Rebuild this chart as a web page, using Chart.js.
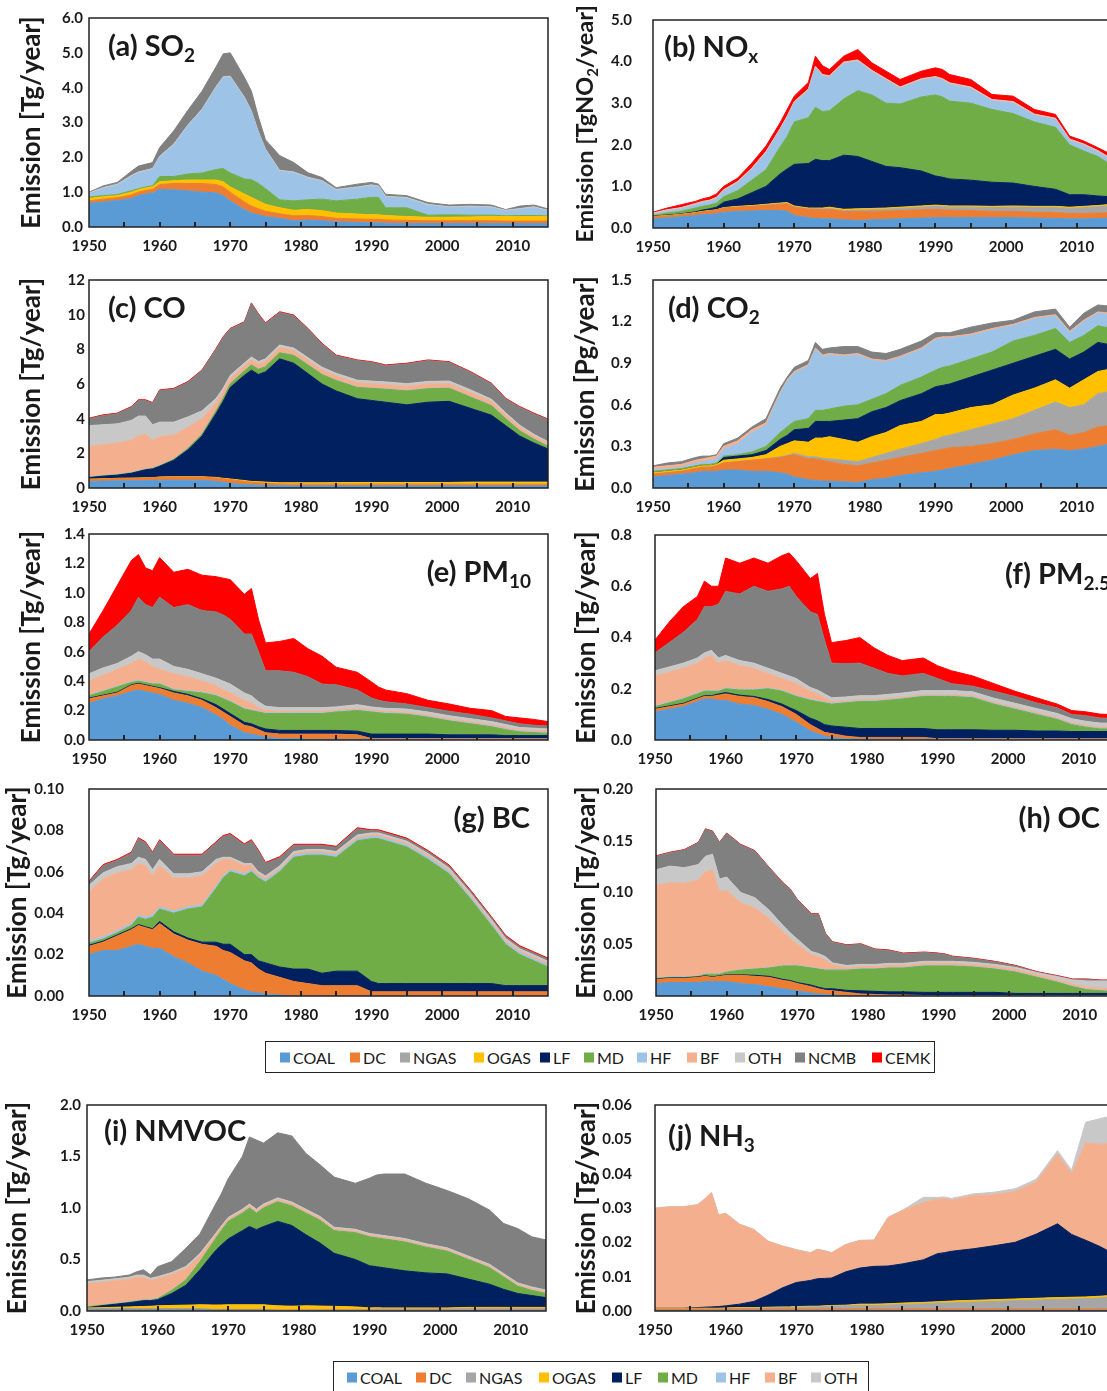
<!DOCTYPE html>
<html>
<head>
<meta charset="utf-8">
<title>Emissions by source sector, 1950-2015</title>
<script src="https://cdn.jsdelivr.net/npm/chart.js@4.4.1/dist/chart.umd.min.js"></script>
<style>
  html, body { margin: 0; padding: 0; background: #fff; }
  body { width: 1107px; height: 1391px; position: relative; overflow: hidden; font-family: Lato, "Liberation Sans", sans-serif; }
  canvas { position: absolute; }
  .legend { position: absolute; border: 1.5px solid #222; box-sizing: border-box; background: #fff; }
  .item { position: absolute; display: flex; align-items: center; font-size: 16px; color: #1a1a1a; white-space: nowrap; transform: translateY(-50%); }
  .swatch { display: inline-block; width: 10px; height: 10px; margin-right: 3px; }
</style>
</head>
<body>
<script>
// Years sampled for every panel
const years = [1950,1952,1954,1956,1957,1958,1959,1960,1962,1964,1966,1968,1969,1970,1972,1973,1974,1975,
               1977,1979,1981,1983,1985,1988,1990,1991,1992,1995,1998,2001,2004,2007,2009,2011,2013,2015];

const mainLegend = ["COAL","DC","NGAS","OGAS","LF","MD","HF","BF","OTH","NCMB","CEMK"];
const nmvocLegend = ["COAL","DC","NGAS","OGAS","LF","MD","HF","BF","OTH"];

const COLORS = {
  COAL: "#5B9BD5", DC: "#ED7D31", NGAS: "#A6A6A6", OGAS: "#FFC000", LF: "#002060", MD: "#70AD47",
  HF: "#9DC3E6", BF: "#F4B08E", OTH: "#C8C8C8", NCMB: "#808080", CEMK: "#FF0000"
};

// (a) SO2 [Tg/year]
const so2_COAL = [0.68,0.72,0.76,0.82,0.90,0.95,0.98,1.08,1.07,1.04,1.00,0.98,0.90,0.75,0.50,0.40,0.35,0.30,0.25,0.18,0.20,0.18,0.15,0.13,0.12,0.12,0.11,0.10,0.10,0.10,0.10,0.10,0.10,0.10,0.10,0.10];
const so2_DC   = [0.07,0.08,0.08,0.10,0.10,0.10,0.10,0.14,0.18,0.21,0.25,0.24,0.25,0.25,0.22,0.20,0.17,0.15,0.13,0.14,0.13,0.12,0.10,0.10,0.10,0.10,0.09,0.09,0.08,0.08,0.08,0.08,0.07,0.07,0.07,0.07];
const so2_OGAS = [0.07,0.07,0.06,0.08,0.07,0.07,0.07,0.08,0.08,0.10,0.10,0.13,0.15,0.15,0.23,0.25,0.23,0.20,0.17,0.16,0.17,0.17,0.15,0.14,0.13,0.13,0.13,0.11,0.10,0.10,0.11,0.12,0.13,0.13,0.13,0.13];
const so2_MD   = [0.04,0.03,0.03,0.04,0.03,0.03,0.03,0.15,0.12,0.17,0.20,0.30,0.38,0.40,0.43,0.51,0.50,0.45,0.23,0.27,0.28,0.33,0.35,0.43,0.50,0.50,0.22,0.25,0.06,0.07,0.05,0.04,0.02,0.03,0.03,0.02];
const so2_HF   = [0.09,0.20,0.27,0.41,0.45,0.45,0.47,0.55,0.90,1.38,1.80,2.35,2.60,2.75,2.32,1.94,1.45,1.10,0.82,0.80,0.62,0.50,0.30,0.32,0.33,0.30,0.30,0.27,0.28,0.20,0.23,0.21,0.13,0.17,0.22,0.13];
const so2_OTH  = [0.03,0.03,0.03,0.03,0.03,0.03,0.03,0.03,0.03,0.03,0.03,0.03,0.03,0.03,0.03,0.03,0.03,0.03,0.03,0.03,0.03,0.03,0.03,0.03,0.03,0.03,0.03,0.03,0.03,0.03,0.03,0.03,0.03,0.03,0.03,0.03];
const so2_NCMB = [0.02,0.05,0.05,0.12,0.17,0.17,0.17,0.25,0.38,0.42,0.52,0.57,0.66,0.67,0.57,0.57,0.42,0.27,0.42,0.27,0.13,0.09,0.05,0.08,0.07,0.05,0.06,0.05,0.05,0.05,0.05,0.05,0.02,0.07,0.05,0.04];

// (b) NOx [TgNO2/year]
const nox_COAL = [0.22,0.24,0.27,0.30,0.32,0.33,0.34,0.38,0.40,0.41,0.42,0.42,0.40,0.30,0.25,0.23,0.22,0.22,0.20,0.18,0.20,0.21,0.22,0.24,0.25,0.25,0.25,0.25,0.25,0.25,0.24,0.23,0.22,0.22,0.23,0.24];
const nox_DC   = [0.05,0.05,0.05,0.06,0.07,0.08,0.09,0.10,0.10,0.11,0.12,0.15,0.18,0.20,0.20,0.22,0.22,0.23,0.20,0.22,0.20,0.20,0.20,0.20,0.20,0.19,0.18,0.17,0.15,0.15,0.14,0.14,0.13,0.13,0.13,0.13];
const nox_NGAS = [0,0,0,0,0,0,0,0,0,0,0.01,0.01,0.01,0.01,0.01,0.01,0.02,0.02,0.02,0.03,0.04,0.04,0.05,0.06,0.07,0.07,0.07,0.08,0.09,0.10,0.11,0.12,0.12,0.14,0.15,0.17];
const nox_OGAS = [0.01,0.01,0.01,0.01,0.01,0.01,0.01,0.01,0.02,0.02,0.02,0.02,0.02,0.02,0.02,0.02,0.02,0.03,0.03,0.03,0.03,0.03,0.03,0.03,0.03,0.03,0.03,0.03,0.03,0.03,0.03,0.03,0.03,0.03,0.03,0.03];
const nox_LF   = [0.01,0.01,0.01,0.02,0.03,0.04,0.06,0.13,0.18,0.31,0.43,0.70,0.81,1.00,1.07,1.17,1.14,1.12,1.30,1.26,1.13,1.00,0.95,0.84,0.70,0.68,0.65,0.62,0.58,0.55,0.48,0.41,0.30,0.28,0.23,0.18];
const nox_MD   = [0.01,0.05,0.06,0.09,0.09,0.09,0.10,0.13,0.20,0.30,0.40,0.65,0.78,1.02,1.10,1.25,1.18,1.20,1.35,1.58,1.60,1.52,1.53,1.78,1.95,1.93,1.87,1.85,1.75,1.67,1.55,1.49,1.20,1.05,0.95,0.75];
const nox_HF   = [0.02,0.04,0.05,0.07,0.08,0.08,0.10,0.13,0.18,0.25,0.40,0.40,0.45,0.45,0.65,0.95,0.85,0.80,0.85,0.70,0.55,0.55,0.37,0.40,0.40,0.40,0.40,0.35,0.20,0.25,0.15,0.18,0.10,0.13,0.10,0.12];
const nox_BF   = [0.01,0.01,0.01,0.01,0.01,0.01,0.01,0.01,0.01,0.01,0.01,0.01,0.01,0.01,0.01,0.01,0.01,0.01,0.01,0.01,0.01,0.01,0.01,0.01,0.01,0.01,0.01,0.01,0.01,0.01,0.01,0.01,0.01,0.01,0.01,0.01];
const nox_OTH  = [0.03,0.03,0.03,0.03,0.03,0.03,0.03,0.03,0.03,0.03,0.03,0.03,0.03,0.03,0.03,0.03,0.03,0.03,0.03,0.03,0.03,0.03,0.03,0.03,0.03,0.03,0.03,0.03,0.03,0.03,0.03,0.03,0.03,0.03,0.03,0.03];
const nox_CEMK = [0.02,0.04,0.07,0.05,0.06,0.07,0.08,0.08,0.08,0.12,0.13,0.14,0.16,0.13,0.16,0.24,0.21,0.15,0.14,0.25,0.18,0.18,0.18,0.18,0.21,0.22,0.20,0.18,0.12,0.13,0.11,0.09,0.07,0.07,0.07,0.10];

// (c) CO [Tg/year]
const co_COAL = [0.38,0.40,0.42,0.42,0.42,0.43,0.43,0.45,0.45,0.45,0.45,0.38,0.33,0.28,0.20,0.18,0.16,0.15,0.13,0.12,0.12,0.12,0.12,0.12,0.12,0.12,0.12,0.12,0.12,0.12,0.12,0.12,0.12,0.12,0.12,0.12];
const co_DC   = [0.12,0.12,0.13,0.14,0.15,0.15,0.15,0.17,0.18,0.18,0.18,0.20,0.20,0.20,0.18,0.15,0.14,0.13,0.10,0.10,0.10,0.10,0.10,0.10,0.10,0.10,0.10,0.10,0.10,0.10,0.10,0.10,0.10,0.10,0.10,0.10];
const co_OGAS = [0.01,0.01,0.01,0.01,0.01,0.01,0.01,0.02,0.02,0.02,0.02,0.03,0.03,0.04,0.05,0.05,0.06,0.06,0.07,0.08,0.08,0.08,0.09,0.10,0.10,0.10,0.10,0.10,0.10,0.10,0.12,0.12,0.12,0.12,0.12,0.12];
const co_LF   = [0.09,0.15,0.18,0.28,0.37,0.46,0.51,0.61,0.95,1.55,2.35,3.69,4.44,5.28,6.07,6.42,6.19,6.36,7.15,6.90,6.30,5.70,5.29,4.83,4.73,4.68,4.63,4.48,4.63,4.68,4.26,3.86,3.26,2.66,2.26,1.91];
const co_MD   = [0.02,0.02,0.02,0.02,0.02,0.02,0.02,0.03,0.05,0.08,0.10,0.15,0.18,0.20,0.25,0.30,0.30,0.30,0.35,0.45,0.50,0.55,0.60,0.65,0.70,0.72,0.75,0.80,0.78,0.75,0.65,0.55,0.40,0.30,0.22,0.15];
const co_HF   = [0.02,0.02,0.02,0.02,0.02,0.02,0.02,0.02,0.02,0.02,0.02,0.02,0.02,0.02,0.02,0.02,0.02,0.02,0.02,0.02,0.02,0.02,0.02,0.02,0.02,0.02,0.02,0.02,0.02,0.02,0.02,0.02,0.02,0.02,0.02,0.02];
const co_BF   = [1.76,1.78,1.82,1.86,2.01,2.01,1.61,1.65,1.38,1.20,0.88,0.45,0.35,0.30,0.28,0.28,0.28,0.28,0.28,0.25,0.25,0.25,0.25,0.25,0.25,0.25,0.25,0.25,0.25,0.25,0.25,0.22,0.20,0.18,0.16,0.15];
const co_OTH  = [1.20,1.15,1.10,1.15,1.15,1.05,0.90,0.85,0.75,0.60,0.45,0.25,0.20,0.18,0.16,0.16,0.15,0.15,0.15,0.15,0.15,0.15,0.15,0.15,0.15,0.15,0.15,0.15,0.15,0.15,0.15,0.13,0.12,0.12,0.10,0.10];
const co_NCMB = [0.39,0.53,0.58,0.76,0.90,0.90,1.24,1.82,1.91,2.00,2.32,2.84,2.94,2.67,2.34,3.08,2.71,2.04,1.88,1.87,1.65,1.34,1.01,1.13,1.08,1.02,0.94,1.14,1.20,1.08,1.01,0.89,0.80,1.04,1.18,1.27];
const co_CEMK = [0.04,0.04,0.04,0.04,0.04,0.04,0.04,0.04,0.04,0.04,0.04,0.04,0.04,0.04,0.04,0.04,0.04,0.04,0.04,0.04,0.04,0.04,0.04,0.04,0.04,0.04,0.04,0.04,0.04,0.04,0.04,0.04,0.04,0.04,0.04,0.04];

// (d) CO2 [Pg/year]
const co2_COAL = [0.08,0.09,0.10,0.11,0.12,0.12,0.12,0.13,0.13,0.12,0.12,0.11,0.10,0.08,0.06,0.055,0.05,0.05,0.045,0.04,0.06,0.07,0.09,0.11,0.12,0.13,0.14,0.17,0.20,0.24,0.27,0.28,0.27,0.28,0.30,0.32];
const co2_DC   = [0.02,0.02,0.02,0.03,0.03,0.03,0.04,0.05,0.06,0.08,0.09,0.11,0.13,0.16,0.15,0.155,0.15,0.14,0.125,0.12,0.12,0.13,0.13,0.14,0.15,0.15,0.15,0.13,0.12,0.11,0.12,0.14,0.11,0.12,0.14,0.13];
const co2_NGAS = [0,0,0,0,0,0,0,0,0,0,0,0.005,0.005,0.01,0.015,0.015,0.015,0.02,0.03,0.03,0.04,0.05,0.06,0.07,0.08,0.09,0.09,0.12,0.14,0.15,0.17,0.20,0.20,0.20,0.24,0.25];
const co2_OGAS = [0.01,0.01,0.01,0.01,0.01,0.01,0.01,0.02,0.02,0.02,0.03,0.075,0.085,0.09,0.105,0.135,0.145,0.16,0.15,0.14,0.15,0.15,0.17,0.16,0.18,0.16,0.16,0.16,0.14,0.17,0.16,0.16,0.14,0.18,0.16,0.16];
const co2_LF   = [0,0,0,0,0,0,0,0.02,0.02,0.02,0.03,0.05,0.06,0.08,0.10,0.12,0.12,0.11,0.14,0.17,0.18,0.18,0.18,0.20,0.20,0.21,0.21,0.22,0.25,0.23,0.23,0.22,0.21,0.20,0.21,0.17];
const co2_MD   = [0.01,0.01,0.01,0.01,0.01,0.01,0.01,0.01,0.01,0.02,0.03,0.05,0.06,0.06,0.07,0.08,0.08,0.09,0.10,0.10,0.09,0.10,0.11,0.12,0.12,0.13,0.13,0.13,0.13,0.16,0.15,0.15,0.12,0.12,0.12,0.12];
const co2_HF   = [0.01,0.01,0.01,0.02,0.02,0.03,0.03,0.05,0.08,0.14,0.15,0.28,0.33,0.35,0.38,0.44,0.39,0.39,0.36,0.36,0.28,0.23,0.20,0.20,0.22,0.21,0.20,0.17,0.16,0.11,0.12,0.09,0.07,0.10,0.09,0.10];
const co2_BF   = [0.02,0.02,0.02,0.02,0.02,0.02,0.02,0.02,0.02,0.02,0.02,0.01,0.01,0.01,0.01,0.01,0.01,0.01,0.01,0.01,0.01,0.01,0.01,0.01,0.01,0.01,0.01,0.01,0.01,0.01,0.01,0.01,0.01,0.01,0.01,0.01];
const co2_NCMB = [0.01,0.02,0.02,0.02,0.02,0.01,0.01,0.02,0.02,0.02,0.03,0.03,0.02,0.03,0.03,0.04,0.04,0.04,0.06,0.05,0.05,0.05,0.05,0.05,0.04,0.03,0.03,0.05,0.04,0.03,0.04,0.04,0.03,0.05,0.05,0.05];

// (e) PM10 [Tg/year]
const pm10_COAL = [0.25,0.28,0.30,0.33,0.34,0.33,0.32,0.31,0.27,0.25,0.22,0.17,0.14,0.10,0.05,0.04,0.03,0.02,0.01,0.01,0.005,0.005,0.005,0.005,0.005,0.005,0.005,0.005,0.005,0.005,0.005,0.005,0.005,0.005,0.005,0.005];
const pm10_DC   = [0.03,0.02,0.02,0.04,0.04,0.04,0.04,0.04,0.05,0.05,0.05,0.05,0.05,0.06,0.05,0.05,0.04,0.03,0.03,0.03,0.035,0.035,0.035,0.03,0.005,0.005,0.005,0.005,0.005,0.005,0.005,0.005,0.005,0.005,0.005,0.005];
const pm10_LF   = [0.005,0.005,0.005,0.005,0.005,0.005,0.005,0.005,0.01,0.01,0.01,0.02,0.02,0.02,0.02,0.02,0.02,0.025,0.025,0.025,0.025,0.025,0.025,0.025,0.03,0.03,0.03,0.03,0.03,0.025,0.025,0.025,0.02,0.02,0.02,0.02];
const pm10_MD   = [0.015,0.025,0.035,0.015,0.015,0.015,0.015,0.025,0.01,0.02,0.04,0.06,0.07,0.08,0.09,0.09,0.10,0.105,0.115,0.115,0.115,0.115,0.125,0.14,0.15,0.145,0.14,0.135,0.115,0.095,0.075,0.055,0.04,0.025,0.02,0.015];
const pm10_HF   = [0.005,0.005,0.005,0.005,0.005,0.005,0.005,0.005,0.005,0.005,0.005,0.005,0.005,0.005,0.005,0.005,0.005,0.005,0.005,0.005,0.005,0.005,0.005,0.005,0.005,0.005,0.005,0.005,0.005,0.005,0.005,0.005,0.005,0.005,0.005,0.005];
const pm10_BF   = [0.095,0.105,0.115,0.125,0.145,0.135,0.115,0.095,0.105,0.095,0.075,0.065,0.055,0.055,0.055,0.045,0.025,0.015,0.01,0.01,0.01,0.01,0.01,0.01,0.01,0.01,0.01,0.01,0.01,0.01,0.01,0.01,0.01,0.01,0.01,0.01];
const pm10_OTH  = [0.05,0.05,0.04,0.05,0.05,0.05,0.05,0.07,0.05,0.05,0.05,0.05,0.06,0.06,0.05,0.05,0.04,0.03,0.025,0.025,0.025,0.025,0.02,0.025,0.02,0.02,0.02,0.02,0.02,0.02,0.02,0.02,0.02,0.015,0.015,0.015];
const pm10_NCMB = [0.15,0.21,0.26,0.31,0.37,0.34,0.35,0.42,0.40,0.44,0.43,0.45,0.45,0.44,0.40,0.42,0.34,0.24,0.25,0.24,0.21,0.16,0.15,0.10,0.06,0.05,0.045,0.035,0.03,0.03,0.03,0.025,0.025,0.025,0.02,0.02];
const pm10_CEMK = [0.12,0.18,0.27,0.34,0.29,0.25,0.25,0.27,0.24,0.24,0.24,0.24,0.25,0.27,0.27,0.31,0.22,0.19,0.20,0.23,0.19,0.19,0.12,0.12,0.11,0.09,0.08,0.07,0.05,0.05,0.04,0.05,0.03,0.04,0.04,0.03];

// (f) PM2.5 [Tg/year]
const pm25_COAL = [0.11,0.12,0.13,0.15,0.16,0.16,0.155,0.155,0.14,0.135,0.12,0.10,0.085,0.07,0.035,0.025,0.015,0.01,0.005,0.003,0.003,0.003,0.003,0.003,0.003,0.003,0.003,0.003,0.003,0.003,0.003,0.003,0.003,0.003,0.003,0.003];
const pm25_DC   = [0.01,0.01,0.01,0.01,0.01,0.01,0.02,0.025,0.03,0.03,0.03,0.03,0.03,0.03,0.025,0.02,0.015,0.015,0.01,0.007,0.007,0.007,0.007,0.007,0.002,0.002,0.002,0.002,0.002,0.002,0.002,0.002,0.002,0.002,0.002,0.002];
const pm25_LF   = [0.003,0.003,0.003,0.003,0.003,0.003,0.005,0.005,0.005,0.005,0.008,0.01,0.012,0.015,0.025,0.03,0.03,0.03,0.035,0.035,0.035,0.035,0.035,0.035,0.035,0.035,0.035,0.035,0.033,0.033,0.03,0.03,0.028,0.028,0.028,0.028];
const pm25_MD   = [0.007,0.012,0.017,0.017,0.017,0.017,0.01,0.015,0.02,0.025,0.042,0.05,0.053,0.055,0.07,0.075,0.085,0.085,0.095,0.105,0.105,0.11,0.115,0.125,0.13,0.13,0.13,0.125,0.102,0.082,0.065,0.045,0.027,0.017,0.01,0.01];
const pm25_HF   = [0.003,0.003,0.003,0.003,0.003,0.003,0.003,0.003,0.003,0.003,0.003,0.003,0.003,0.003,0.003,0.003,0.003,0.003,0.003,0.003,0.003,0.003,0.003,0.003,0.003,0.003,0.003,0.003,0.003,0.003,0.003,0.003,0.003,0.003,0.003,0.003];
const pm25_BF   = [0.117,0.117,0.117,0.117,0.127,0.137,0.107,0.107,0.092,0.082,0.057,0.047,0.047,0.047,0.032,0.027,0.017,0.007,0.005,0.005,0.005,0.005,0.005,0.005,0.005,0.005,0.005,0.005,0.005,0.005,0.005,0.005,0.005,0.005,0.005,0.005];
const pm25_OTH  = [0.02,0.02,0.02,0.02,0.02,0.02,0.02,0.02,0.02,0.02,0.02,0.02,0.02,0.02,0.015,0.015,0.015,0.015,0.015,0.015,0.015,0.015,0.015,0.015,0.015,0.015,0.015,0.015,0.015,0.015,0.015,0.015,0.015,0.015,0.015,0.015];
const pm25_NCMB = [0.07,0.095,0.12,0.15,0.18,0.17,0.21,0.25,0.26,0.30,0.30,0.33,0.35,0.32,0.295,0.295,0.21,0.135,0.13,0.127,0.107,0.082,0.067,0.067,0.047,0.037,0.027,0.022,0.027,0.027,0.022,0.022,0.017,0.022,0.02,0.018];
const pm25_CEMK = [0.05,0.08,0.10,0.09,0.10,0.08,0.07,0.13,0.12,0.11,0.11,0.13,0.13,0.14,0.13,0.16,0.10,0.08,0.09,0.10,0.08,0.07,0.06,0.06,0.05,0.05,0.05,0.04,0.03,0.02,0.02,0.015,0.015,0.015,0.015,0.015];

// (g) BC [Tg/year]
const bc_COAL = [0.02,0.022,0.022,0.024,0.025,0.024,0.023,0.023,0.019,0.016,0.012,0.01,0.008,0.006,0.003,0.002,0.0015,0.001,0.0005,0,0,0,0,0,0,0,0,0,0,0,0,0,0,0,0,0];
const bc_DC   = [0.004,0.004,0.007,0.008,0.009,0.009,0.009,0.012,0.011,0.011,0.013,0.014,0.014,0.015,0.014,0.014,0.0115,0.01,0.0085,0.007,0.006,0.005,0.005,0.005,0.002,0.002,0.002,0.002,0.002,0.002,0.002,0.002,0.002,0.002,0.002,0.002];
const bc_LF   = [0.0005,0.0005,0.0005,0.0005,0.0005,0.0005,0.0005,0.001,0.001,0.001,0.001,0.002,0.003,0.004,0.003,0.004,0.004,0.005,0.005,0.006,0.007,0.006,0.007,0.007,0.005,0.004,0.004,0.004,0.004,0.004,0.004,0.004,0.003,0.003,0.003,0.003];
const bc_MD   = [0.001,0.001,0.001,0.0015,0.0035,0.0035,0.0055,0.006,0.009,0.014,0.017,0.026,0.032,0.035,0.038,0.04,0.04,0.039,0.046,0.054,0.055,0.057,0.055,0.063,0.069,0.07,0.069,0.066,0.06,0.053,0.041,0.028,0.02,0.015,0.012,0.009];
const bc_HF   = [0.001,0.001,0.001,0.001,0.001,0.001,0.001,0.001,0.001,0.001,0.001,0.001,0.001,0.001,0.001,0.001,0.001,0.001,0.001,0.001,0.001,0.001,0.001,0.001,0.001,0.001,0.001,0.001,0.001,0.001,0.001,0.001,0.001,0.001,0.001,0.001];
const bc_BF   = [0.024,0.028,0.028,0.026,0.025,0.025,0.019,0.02,0.016,0.014,0.014,0.011,0.008,0.005,0.004,0.002,0.001,0.001,0.0008,0.0008,0.0008,0.0008,0.0008,0.0008,0.0008,0.0008,0.0008,0.0008,0.0008,0.0008,0.0008,0.0008,0.0008,0.0008,0.0008,0.0008];
const bc_OTH  = [0.003,0.003,0.003,0.003,0.003,0.003,0.003,0.003,0.002,0.002,0.002,0.002,0.001,0.001,0.001,0.001,0.001,0.001,0.001,0.001,0.001,0.001,0.001,0.001,0.001,0.001,0.001,0.001,0.001,0.001,0.001,0.001,0.001,0.001,0.001,0.001];
const bc_NCMB = [0.0015,0.0035,0.003,0.005,0.009,0.008,0.008,0.009,0.009,0.009,0.008,0.008,0.01,0.011,0.009,0.011,0.01,0.006,0.004,0.003,0.002,0.002,0.002,0.003,0.001,0.001,0.001,0.001,0.001,0.001,0.001,0.001,0.001,0.001,0.001,0.001];
const bc_CEMK = [0.0005,0.0005,0.0005,0.0005,0.0005,0.0005,0.0005,0.0005,0.0005,0.0005,0.0005,0.0005,0.0005,0.0005,0.0005,0.0005,0.0005,0.0005,0.0005,0.0005,0.0005,0.0005,0.0005,0.0005,0.0005,0.0005,0.0005,0.0005,0.0005,0.0005,0.0005,0.0005,0.0005,0.0005,0.0005,0.0005];

// (h) OC [Tg/year]
const oc_COAL = [0.012,0.013,0.013,0.013,0.014,0.014,0.014,0.014,0.012,0.011,0.009,0.007,0.006,0.005,0.003,0.002,0.0015,0.001,0.0005,0,0,0,0,0,0,0,0,0,0,0,0,0,0,0,0,0];
const oc_DC   = [0.004,0.004,0.004,0.005,0.005,0.004,0.005,0.006,0.008,0.008,0.009,0.008,0.008,0.007,0.006,0.005,0.004,0.004,0.003,0.002,0.0015,0.001,0.001,0.0005,0.0005,0.0005,0.0005,0.0005,0.0005,0.0005,0.0005,0.0005,0.0005,0.0005,0.0005,0.0005];
const oc_LF   = [0.0005,0.0005,0.0005,0.0005,0.0005,0.0005,0.0005,0.0005,0.0005,0.001,0.001,0.001,0.001,0.001,0.0015,0.0015,0.0015,0.002,0.002,0.003,0.003,0.003,0.003,0.003,0.003,0.003,0.003,0.003,0.003,0.002,0.002,0.002,0.002,0.002,0.002,0.002];
const oc_MD   = [0.0005,0.0005,0.0005,0.0005,0.0015,0.0025,0.0015,0.0025,0.0045,0.006,0.008,0.013,0.014,0.016,0.0165,0.0175,0.018,0.018,0.0195,0.021,0.0215,0.023,0.023,0.0255,0.0255,0.0255,0.0255,0.0245,0.0225,0.0205,0.0155,0.0105,0.0065,0.0035,0.0025,0.0015];
const oc_HF   = [0.0005,0.0005,0.0005,0.0005,0.0005,0.0005,0.0005,0.0005,0.0005,0.0005,0.0005,0.0005,0.0005,0.0005,0.0005,0.0005,0.0005,0.0005,0.0005,0.0005,0.0005,0.0005,0.0005,0.0005,0.0005,0.0005,0.0005,0.0005,0.0005,0.0005,0.0005,0.0005,0.0005,0.0005,0.0005,0.0005];
const oc_BF   = [0.0895,0.091,0.0905,0.0925,0.0985,0.1005,0.0795,0.0785,0.0645,0.0585,0.0475,0.0325,0.0265,0.0205,0.0125,0.0115,0.0095,0.0045,0.002,0.002,0.002,0.002,0.002,0.002,0.002,0.002,0.002,0.002,0.002,0.002,0.002,0.002,0.002,0.002,0.002,0.002];
const oc_OTH  = [0.015,0.016,0.015,0.015,0.015,0.015,0.012,0.013,0.01,0.01,0.008,0.006,0.005,0.005,0.003,0.003,0.003,0.002,0.002,0.002,0.002,0.002,0.002,0.002,0.002,0.002,0.002,0.002,0.002,0.002,0.002,0.003,0.004,0.006,0.007,0.008];
const oc_NCMB = [0.013,0.013,0.017,0.021,0.026,0.022,0.035,0.042,0.046,0.045,0.041,0.041,0.042,0.038,0.036,0.038,0.022,0.02,0.0195,0.0195,0.0145,0.0125,0.0095,0.0085,0.0075,0.0065,0.0045,0.0035,0.0025,0.0015,0.0005,0.0005,0.0005,0.0015,0.0005,0.0005];
const oc_CEMK = [0.0005,0.0005,0.0005,0.0005,0.0005,0.0005,0.0005,0.0005,0.0005,0.0005,0.0005,0.0005,0.0005,0.0005,0.0005,0.0005,0.0005,0.0005,0.0005,0.0005,0.0005,0.0005,0.0005,0.0005,0.0005,0.0005,0.0005,0.0005,0.0005,0.0005,0.0005,0.0005,0.0005,0.0005,0.0005,0.0005];

// (i) NMVOC [Tg/year]
const voc_COAL = [0.015,0.015,0.015,0.015,0.015,0.015,0.015,0.015,0.015,0.015,0.015,0.01,0.01,0.01,0.01,0.01,0.01,0.01,0.005,0.005,0.005,0.005,0.005,0.005,0.005,0.005,0.005,0.005,0.005,0.005,0.005,0.005,0.005,0.005,0.005,0.005];
const voc_DC   = [0.005,0.005,0.005,0.005,0.005,0.005,0.005,0.005,0.005,0.005,0.005,0.005,0.005,0.005,0.005,0.005,0.005,0.005,0.005,0.005,0.005,0.005,0.005,0.005,0.005,0.005,0.005,0.005,0.005,0.005,0.005,0.005,0.005,0.005,0.005,0.005];
const voc_NGAS = [0,0,0,0,0,0,0,0,0,0,0,0,0,0,0,0,0,0,0,0,0.005,0.005,0.005,0.005,0.005,0.01,0.01,0.01,0.01,0.01,0.015,0.015,0.015,0.015,0.015,0.015];
const voc_OGAS = [0.01,0.012,0.016,0.02,0.022,0.024,0.026,0.03,0.034,0.037,0.04,0.043,0.044,0.045,0.045,0.045,0.045,0.045,0.04,0.037,0.035,0.033,0.03,0.025,0.015,0.012,0.01,0.01,0.01,0.01,0.01,0.01,0.01,0.01,0.01,0.01];
const voc_LF   = [0.002,0.018,0.029,0.04,0.048,0.056,0.054,0.06,0.116,0.193,0.34,0.512,0.581,0.64,0.72,0.76,0.73,0.76,0.82,0.783,0.69,0.612,0.515,0.46,0.41,0.398,0.39,0.36,0.34,0.33,0.275,0.225,0.175,0.135,0.115,0.095];
const voc_MD   = [0.01,0.005,0.005,0.005,0.005,0.005,0.005,0.01,0.03,0.05,0.08,0.11,0.14,0.17,0.17,0.18,0.16,0.18,0.19,0.19,0.21,0.22,0.22,0.26,0.28,0.28,0.28,0.28,0.25,0.22,0.19,0.16,0.12,0.07,0.05,0.04];
const voc_HF   = [0.003,0.003,0.003,0.003,0.003,0.003,0.003,0.003,0.003,0.003,0.003,0.003,0.003,0.003,0.003,0.003,0.003,0.003,0.003,0.003,0.003,0.003,0.003,0.003,0.003,0.003,0.003,0.003,0.003,0.003,0.003,0.003,0.003,0.003,0.003,0.003];
const voc_BF   = [0.22,0.22,0.22,0.22,0.23,0.22,0.19,0.19,0.15,0.11,0.055,0.03,0.025,0.02,0.02,0.02,0.02,0.02,0.02,0.02,0.02,0.02,0.015,0.015,0.015,0.015,0.015,0.015,0.015,0.015,0.015,0.015,0.015,0.015,0.015,0.015];
const voc_OTH  = [0.02,0.02,0.02,0.02,0.02,0.02,0.02,0.02,0.02,0.02,0.02,0.02,0.015,0.015,0.015,0.015,0.015,0.015,0.015,0.015,0.015,0.015,0.015,0.015,0.015,0.015,0.015,0.015,0.015,0.015,0.015,0.015,0.015,0.015,0.015,0.015];
const voc_NCMB = [0.017,0.022,0.017,0.022,0.032,0.052,0.032,0.097,0.107,0.177,0.192,0.277,0.312,0.377,0.512,0.652,0.672,0.592,0.632,0.642,0.542,0.502,0.487,0.447,0.537,0.577,0.597,0.627,0.587,0.557,0.557,0.527,0.487,0.527,0.487,0.487];

// (j) NH3 [Tg/year]
const nh3_COAL = [0.0002,0.0002,0.0002,0.0002,0.0002,0.0002,0.0002,0.0002,0.0002,0.0002,0.0002,0.0002,0.0002,0.0002,0.0002,0.0002,0.0002,0.0002,0.0002,0.0002,0.0002,0.0002,0.0002,0.0002,0.0002,0.0002,0.0002,0.0002,0.0002,0.0002,0.0002,0.0002,0.0002,0.0002,0.0002,0.0002];
const nh3_DC   = [0.0004,0.0004,0.0004,0.0004,0.0004,0.0004,0.0004,0.0004,0.0004,0.0004,0.0004,0.0004,0.0004,0.0004,0.0004,0.0004,0.0004,0.0004,0.0004,0.0004,0.0004,0.0004,0.0004,0.0004,0.0004,0.0004,0.0004,0.0004,0.0004,0.0004,0.0004,0.0004,0.0004,0.0004,0.0004,0.0004];
const nh3_NGAS = [0,0,0,0,0,0,0,0.0001,0.0002,0.0002,0.0003,0.0004,0.0004,0.0005,0.0006,0.0006,0.0007,0.0008,0.0009,0.001,0.001,0.0011,0.0013,0.0015,0.0017,0.0017,0.0018,0.002,0.0022,0.0024,0.0026,0.0028,0.0029,0.003,0.0032,0.0035];
const nh3_OGAS = [0.0002,0.0002,0.0002,0.0002,0.0002,0.0002,0.0002,0.0002,0.0002,0.0002,0.0002,0.0002,0.0002,0.0002,0.0002,0.0002,0.0002,0.0002,0.0002,0.0004,0.0004,0.0004,0.0004,0.0004,0.0004,0.0005,0.0005,0.0005,0.0005,0.0005,0.0005,0.0005,0.0005,0.0005,0.0005,0.0005];
const nh3_LF   = [0,0,0,0.0002,0.0003,0.0004,0.0005,0.0006,0.001,0.0018,0.0035,0.0055,0.0063,0.007,0.0075,0.008,0.008,0.008,0.0097,0.0105,0.011,0.011,0.0114,0.0124,0.014,0.0142,0.0145,0.015,0.0157,0.0165,0.0187,0.0215,0.0183,0.0165,0.0145,0.012];
const nh3_BF   = [0.0291,0.0295,0.0295,0.0299,0.0314,0.0332,0.0266,0.0269,0.0232,0.0209,0.0157,0.0122,0.0109,0.0095,0.008,0.0085,0.008,0.0073,0.0079,0.008,0.0076,0.0141,0.0155,0.0167,0.0159,0.0157,0.0149,0.0155,0.0149,0.0148,0.0152,0.0203,0.0177,0.0284,0.0297,0.0324];
const nh3_OTH  = [0.0001,0.0001,0.0001,0.0001,0.0001,0.0001,0.0001,0.0001,0.0001,0.0001,0.0001,0.0001,0.0001,0.0001,0.0001,0.0001,0.0001,0.0001,0.0001,0.0001,0.0001,0.0001,0.0001,0.0015,0.0005,0.0005,0.0005,0.0005,0.0007,0.0008,0.0008,0.001,0.001,0.006,0.0075,0.008];

const DECADES = [1950,1960,1970,1980,1990,2000,2010];
const TG = [["Emission [Tg/year]"]];

// Panel layout: plot-area left edge, top and bottom in page pixels
const panels = [
  { layers: { COAL: so2_COAL, DC: so2_DC, OGAS: so2_OGAS, MD: so2_MD, HF: so2_HF, OTH: so2_OTH, NCMB: so2_NCMB },
    yMax: 6, yStep: 1, digits: 1, left: 89, top: 18, bottom: 227, tickGap: 6, titleX: 31, title: TG,
    label: [["(a) SO"], ["2", true]], labelAt: [108, 46, "left"] },
  { layers: { COAL: nox_COAL, DC: nox_DC, NGAS: nox_NGAS, OGAS: nox_OGAS, LF: nox_LF, MD: nox_MD, HF: nox_HF, BF: nox_BF, OTH: nox_OTH, CEMK: nox_CEMK },
    yMax: 5, yStep: 1, digits: 1, left: 653, top: 20, bottom: 228, tickGap: 21, titleX: 585, titleSize: 23.5,
    title: [["Emission [TgNO"], ["2", true], ["/year]"]],
    label: [["(b) NO"], ["x", true]], labelAt: [664, 47, "left"] },
  { layers: { COAL: co_COAL, DC: co_DC, OGAS: co_OGAS, LF: co_LF, MD: co_MD, HF: co_HF, BF: co_BF, OTH: co_OTH, NCMB: co_NCMB, CEMK: co_CEMK },
    yMax: 12, yStep: 2, digits: 0, left: 89, top: 280, bottom: 488, tickGap: 4, titleX: 31, title: TG,
    label: [["(c) CO"]], labelAt: [108, 308, "left"] },
  { layers: { COAL: co2_COAL, DC: co2_DC, NGAS: co2_NGAS, OGAS: co2_OGAS, LF: co2_LF, MD: co2_MD, HF: co2_HF, BF: co2_BF, NCMB: co2_NCMB },
    yMax: 1.5, yStep: 0.3, digits: 1, left: 653, top: 280, bottom: 488, tickGap: 21, titleX: 585,
    title: [["Emission [Pg/year]"]],
    label: [["(d) CO"], ["2", true]], labelAt: [668, 308, "left"] },
  { layers: { COAL: pm10_COAL, DC: pm10_DC, LF: pm10_LF, MD: pm10_MD, HF: pm10_HF, BF: pm10_BF, OTH: pm10_OTH, NCMB: pm10_NCMB, CEMK: pm10_CEMK },
    yMax: 1.4, yStep: 0.2, digits: 1, left: 89, top: 534, bottom: 740, tickGap: 4, titleX: 31, title: TG,
    label: [["(e) PM"], ["10", true]], labelAt: [531, 572, "right"] },
  { layers: { COAL: pm25_COAL, DC: pm25_DC, LF: pm25_LF, MD: pm25_MD, HF: pm25_HF, BF: pm25_BF, OTH: pm25_OTH, NCMB: pm25_NCMB, CEMK: pm25_CEMK },
    yMax: 0.8, yStep: 0.2, digits: 1, left: 655, top: 535, bottom: 740, tickGap: 23, titleX: 586, title: TG,
    label: [["(f) PM"], ["2.5", true]], labelAt: [1110, 574, "right"] },
  { layers: { COAL: bc_COAL, DC: bc_DC, LF: bc_LF, MD: bc_MD, HF: bc_HF, BF: bc_BF, OTH: bc_OTH, NCMB: bc_NCMB, CEMK: bc_CEMK },
    yMax: 0.1, yStep: 0.02, digits: 2, left: 89, top: 789, bottom: 996, tickGap: 25, titleX: 17, title: TG,
    label: [["(g) BC"]], labelAt: [530, 818, "right"] },
  { layers: { COAL: oc_COAL, DC: oc_DC, LF: oc_LF, MD: oc_MD, HF: oc_HF, BF: oc_BF, OTH: oc_OTH, NCMB: oc_NCMB, CEMK: oc_CEMK },
    yMax: 0.2, yStep: 0.05, digits: 2, left: 656, top: 789, bottom: 996, tickGap: 23, titleX: 586, title: TG,
    label: [["(h) OC"]], labelAt: [1100, 818, "right"] },
  { layers: { COAL: voc_COAL, DC: voc_DC, NGAS: voc_NGAS, OGAS: voc_OGAS, LF: voc_LF, MD: voc_MD, HF: voc_HF, BF: voc_BF, OTH: voc_OTH, NCMB: voc_NCMB },
    yMax: 2, yStep: 0.5, digits: 1, left: 87, top: 1105, bottom: 1311, tickGap: 6, titleX: 17, title: TG,
    label: [["(i) NMVOC"]], labelAt: [104, 1131, "left"] },
  { layers: { COAL: nh3_COAL, DC: nh3_DC, NGAS: nh3_NGAS, OGAS: nh3_OGAS, LF: nh3_LF, BF: nh3_BF, OTH: nh3_OTH },
    yMax: 0.06, yStep: 0.01, digits: 2, left: 655, top: 1105, bottom: 1311, tickGap: 23, titleX: 586, title: TG,
    label: [["(j) NH"], ["3", true]], labelAt: [668, 1136, "left"] }
];

// Room above the plot must exceed half a tick label plus the tick padding,
// otherwise Chart.js pushes the plot area down
const PLOT_W = 459, AXIS_W = 90, PAD_TOP = 40, PAD_RIGHT = 4, AXIS_H = 40;
const TEXT = "#1a1a1a";
const TICK_FONT = { family: "Lato", size: 15, weight: "bold" };

// Draws text runs with optional subscripts; y is the visual middle of the capitals
function drawRich(ctx, parts, x, y, size, align) {
  const main = "bold " + size + "px Lato";
  const sub = "bold " + Math.round(size * 0.65) + "px Lato";
  let width = 0;
  parts.forEach(([t, s]) => { ctx.font = s ? sub : main; width += ctx.measureText(t).width; });
  let cx = align === "left" ? x : align === "right" ? x - width : x - width / 2;
  const base = y + size * 0.36;
  ctx.textAlign = "left";
  ctx.textBaseline = "alphabetic";
  parts.forEach(([t, s]) => {
    ctx.font = s ? sub : main;
    ctx.fillText(t, cx, s ? base + size * 0.2 : base);
    cx += ctx.measureText(t).width;
  });
}

// Frame, inner year ticks, panel label and rotated axis title
function decor(p) {
  return {
    id: "decor",
    afterDraw(chart) {
      const { ctx, chartArea: a, scales } = chart;
      const ox = p.left - AXIS_W, oy = p.top - PAD_TOP;
      ctx.save();
      ctx.strokeStyle = "#222";
      ctx.lineWidth = 2;
      for (let yr = 1955; yr < 2015; yr += 5) {
        const x = Math.round(scales.x.getPixelForValue(yr));
        ctx.beginPath();
        ctx.moveTo(x, a.bottom);
        ctx.lineTo(x, a.bottom - 5);
        ctx.stroke();
      }
      ctx.lineWidth = 1.5;
      ctx.strokeRect(a.left, a.top, a.right - a.left, a.bottom - a.top);
      ctx.fillStyle = TEXT;
      drawRich(ctx, p.label, p.labelAt[0] - ox, p.labelAt[1] - oy, 29, p.labelAt[2]);
      ctx.translate(p.titleX - ox, (a.top + a.bottom) / 2);
      ctx.rotate(-Math.PI / 2);
      drawRich(ctx, p.title, 0, 0, p.titleSize || 26, "center");
      ctx.restore();
    }
  };
}

panels.forEach(p => {
  const c = document.createElement("canvas");
  c.width = AXIS_W + PLOT_W + PAD_RIGHT;
  c.height = p.bottom - p.top + PAD_TOP + AXIS_H;
  c.style.left = (p.left - AXIS_W) + "px";
  c.style.top = (p.top - PAD_TOP) + "px";
  document.body.appendChild(c);

  const names = Object.keys(p.layers);
  const yTicks = [];
  for (let i = 0; i * p.yStep <= p.yMax + 1e-9; i++) yTicks.push(+(i * p.yStep).toFixed(4));

  new Chart(c, {
    type: "line",
    data: {
      labels: years,
      datasets: names.map((n, i) => ({
        label: n,
        data: p.layers[n],
        backgroundColor: COLORS[n],
        borderColor: COLORS[n],
        borderWidth: 1,
        pointRadius: 0,
        tension: 0,
        fill: i === 0 ? "origin" : "-1"
      }))
    },
    options: {
      responsive: false,
      animation: false,
      devicePixelRatio: 1,
      layout: { padding: { top: PAD_TOP, right: PAD_RIGHT, left: 0, bottom: 0 } },
      plugins: { legend: { display: false }, tooltip: { enabled: false } },
      scales: {
        x: {
          type: "linear", min: 1950, max: 2015,
          grid: { display: false, drawTicks: false }, border: { display: false },
          afterBuildTicks: s => { s.ticks = DECADES.map(v => ({ value: v })); },
          afterFit: s => { s.height = AXIS_H; },
          ticks: { padding: 10, font: TICK_FONT, color: TEXT, maxRotation: 0, callback: v => String(v) }
        },
        y: {
          stacked: true, min: 0, max: p.yMax,
          grid: { display: false, drawTicks: false }, border: { display: false },
          afterBuildTicks: s => { s.ticks = yTicks.map(v => ({ value: v })); },
          afterFit: s => { s.width = AXIS_W; },
          ticks: { padding: p.tickGap, font: TICK_FONT, color: TEXT, callback: v => Number(v).toFixed(p.digits) }
        }
      }
    },
    plugins: [decor(p)]
  });
});

// Legend boxes: [left, top, width, height, text middle], item swatch positions
function legend(box, names, xs) {
  const d = document.createElement("div");
  d.className = "legend";
  Object.assign(d.style, { left: box[0] + "px", top: box[1] + "px", width: box[2] + "px", height: box[3] + "px" });
  document.body.appendChild(d);
  names.forEach((n, i) => {
    const it = document.createElement("div");
    it.className = "item";
    it.style.left = xs[i] + "px";
    it.style.top = box[4] + "px";
    it.innerHTML = '<span class="swatch" style="background:' + COLORS[n] + '"></span>' + n;
    document.body.appendChild(it);
  });
}

legend([265, 1041, 670, 32, 1057], mainLegend, [280, 350, 400, 474, 540, 584, 637, 687, 735, 795, 872]);
legend([333, 1361, 536, 40, 1377], nmvocLegend, [347, 416, 466, 539, 612, 658, 716, 765, 811]);
</script>
</body>
</html>
